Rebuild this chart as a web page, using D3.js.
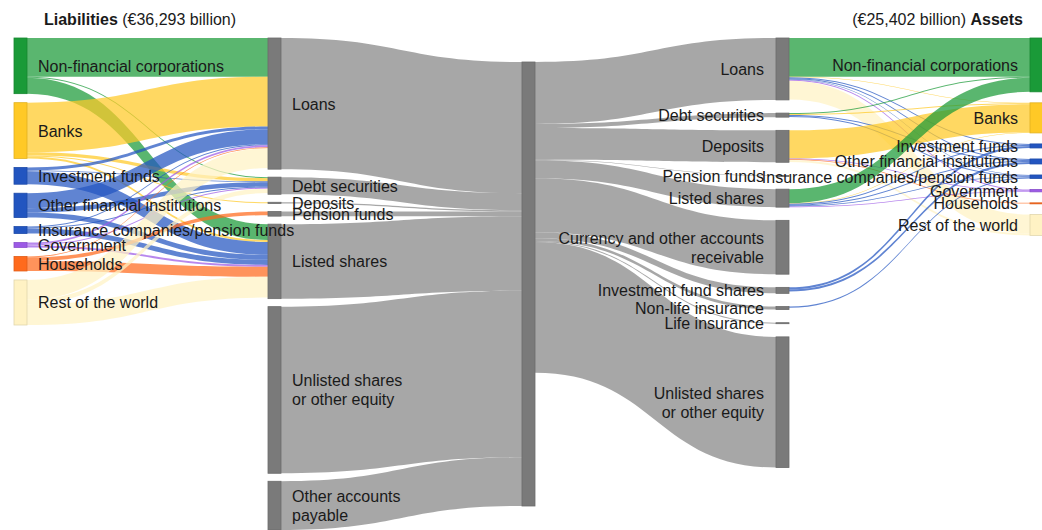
<!DOCTYPE html>
<html><head><meta charset="utf-8">
<script src="https://cdn.jsdelivr.net/npm/d3@7"></script>
<style>
body{margin:0;background:#fff}
text{font-family:"Liberation Sans",Arial,Helvetica,sans-serif}
</style>
</head><body>
<svg id="chart" width="1042" height="530"></svg>
<script>
// ---------- DATA (EUR billion) ----------
const sectors = ["Non-financial corporations","Banks","Investment funds","Other financial institutions","Insurance companies/pension funds","Government","Households","Rest of the world"];
const sectorColors = ["#1a9a38","#ffc926","#2255c0","#2255c0","#2255c0","#9c5ae6","#ff6a1c","#fff2c4"];
const liabilityInstruments = ["Loans","Debt securities","Deposits","Pension funds","Listed shares","Unlisted shares\nor other equity","Other accounts\npayable"];
const liabilityInstrumentTotals = [10720,1400,100,380,6090,13620,3983];
const assetInstruments = ["Loans","Debt securities","Deposits","Pension funds","Listed shares","Currency and other accounts\nreceivable","Investment fund shares","Non-life insurance","Life insurance","Unlisted shares\nor other equity"];
const assetInstrumentTotals = [5060,330,2610,40,1470,4400,490,240,80,10682];
// sector -> liability instrument (Loans, Debt securities, Deposits, Pension funds, Listed shares)
const liabilityFlows = [
  [3170, 80,  0,   0, 1300],
  [4060,260, 80,   0,  160],
  [ 240, 80,  0,   0, 1050],
  [1220,360,  0,   0,  410],
  [  80, 80,  0,   0,  410],
  [ 160, 80,  0,   0,  160],
  [  80,  0,  0, 300,  810],
  [1620,360,  0,   0, 1700]
];
// asset instrument -> sector (columns in order of `sectors`)
const assetFlows = [
  [3170,  40, 80, 80, 40, 80,  0,1540],
  [  80,  80,  0, 80, 80,  0,  0,   0],
  [   0,2300,  0,  0,  0, 60, 60, 160],
  [   0,   0,  0,  0,  0,  0,  0,   0],
  [1150,  40, 80, 80, 60, 60,  0,   0],
  [   0,   0,  0,  0,  0,  0,  0,   0],
  [   0,   0,170,170,  0,  0,  0,   0],
  [   0,   0,  0,  0,100,  0,  0,   0],
  [   0,   0,  0,  0,  0,  0,  0,   0],
  [   0,   0,  0,  0,  0,  0,  0,   0]
];
const liabilitiesTotal = 36293, assetsTotal = 25402;

// ---------- BUILD GRAPH ----------
const instrumentColor = "#7a7a7a";
const nodes = [], links = [];
function addNode(label, col, color){ const n = {label, col, color, sourceLinks:[], targetLinks:[]}; nodes.push(n); return n; }
function addLink(s, t, v){ if (v > 0) { const l = {source:s, target:t, value:v}; s.sourceLinks.push(l); t.targetLinks.push(l); links.push(l); } }

const liabSectorNodes = sectors.map((s,i) => addNode(s, 0, sectorColors[i]));
const liabInstrNodes = liabilityInstruments.map(s => addNode(s, 1, instrumentColor));
const centre = addNode("", 2, instrumentColor);
const assetInstrNodes = assetInstruments.map(s => addNode(s, 3, instrumentColor));
const assetSectorNodes = sectors.map((s,i) => addNode(s, 4, sectorColors[i]));

liabilityFlows.forEach((row,i) => row.forEach((v,j) => addLink(liabSectorNodes[i], liabInstrNodes[j], v)));
liabilityInstrumentTotals.forEach((v,j) => addLink(liabInstrNodes[j], centre, v));
assetInstrumentTotals.forEach((v,j) => addLink(centre, assetInstrNodes[j], v));
assetFlows.forEach((row,i) => row.forEach((v,j) => addLink(assetInstrNodes[i], assetSectorNodes[j], v)));

nodes.forEach(n => n.value = Math.max(d3.sum(n.sourceLinks, l=>l.value), d3.sum(n.targetLinks, l=>l.value)));

// ---------- LAYOUT ----------
const W = 1042, H = 530;
const topY = 38, extentH = 492, nodeW = 13;
const colPad = [9, 8, 0, 13.2, 11];
const xPos = d3.scalePoint().domain(d3.range(5)).range([14, 1030]);
const cols = d3.range(5).map(c => nodes.filter(n => n.col === c));
const ky = d3.min(cols, (ns,c) => (extentH - (ns.length-1)*colPad[c]) / d3.sum(ns, n=>n.value));
const hScale = d3.scaleLinear().domain([0, 1]).range([0, ky]);

cols.forEach((ns, c) => {
  ns.forEach(n => { n.x0 = xPos(c); n.x1 = n.x0 + nodeW; });
  if (ns.length === 1) {
    const n = ns[0];
    const srcs = n.targetLinks.map(l => l.source);
    const mid = (d3.min(srcs, s=>s.y0) + d3.max(srcs, s=>s.y1)) / 2;
    n.y0 = mid - hScale(n.value)/2; n.y1 = n.y0 + hScale(n.value);
  } else {
    let yy = topY;
    ns.forEach(n => { n.y0 = yy; n.y1 = yy + hScale(n.value); yy = n.y1 + colPad[c]; });
  }
});
nodes.forEach(n => {
  n.sourceLinks.sort((a,b) => a.target.y0 - b.target.y0);
  n.targetLinks.sort((a,b) => a.source.y0 - b.source.y0);
  let yy = n.y0;
  n.sourceLinks.forEach(l => { l.sy0 = yy; l.width = hScale(l.value); yy += l.width; l.sy1 = yy; });
  yy = n.y0;
  n.targetLinks.forEach(l => { l.ty0 = yy; yy += hScale(l.value); l.ty1 = yy; });
});

// ---------- DRAW ----------
const svg = d3.select("#chart");
svg.append("rect").attr("width", W).attr("height", H).attr("fill", "#fff");
const curve = d3.linkHorizontal();
function ribbon(l){
  const x0 = l.source.x1, x1 = l.target.x0;
  const a = curve({source:[x0, l.sy0], target:[x1, l.ty0]});
  const b = curve({source:[x1, l.ty1], target:[x0, l.sy1]});
  return a + b.replace(/^M/, "L") + "Z";
}
function linkColor(l){
  if (l.source.col === 0) return l.source.color;
  if (l.target.col === 4) return l.target.color;
  return instrumentColor;
}
svg.append("g").selectAll("path").data(links).join("path")
  .attr("d", ribbon)
  .attr("fill", linkColor)
  .attr("fill-opacity", l => (l.source.col === 0 || l.target.col === 4) ? 0.72 : 0.66);

svg.append("g").selectAll("rect").data(nodes).join("rect")
  .attr("x", n => n.x0).attr("y", n => n.y0)
  .attr("width", nodeW).attr("height", n => Math.max(1, n.y1 - n.y0))
  .attr("fill", n => n.color)
  .attr("stroke", n => d3.color(n.color).darker(0.35))
  .attr("stroke-width", 0.8);

const lineH = 19;
const lab = svg.append("g").attr("font-size", 16).attr("fill", "#1a1a1a");
nodes.filter(n => n.label).forEach(n => {
  const lines = n.label.split("\n");
  const left = n.col < 2;
  const cy = (n.y0 + n.y1) / 2 - (lines.length - 1) * lineH / 2;
  const lx = left ? n.x1 + 11 : n.x0 - 12;
  const t = lab.append("text")
    .attr("x", lx)
    .attr("y", cy)
    .attr("dominant-baseline", "central")
    .attr("text-anchor", left ? "start" : "end");
  lines.forEach((s,i) => t.append("tspan").attr("x", lx).attr("dy", i ? lineH : 0).text(s));
});

const fmt = d3.format(",");
const tl = svg.append("text").attr("x", 44).attr("y", 25).attr("font-size", 16).attr("fill", "#1a1a1a");
tl.append("tspan").attr("font-weight", "bold").text("Liabilities");
tl.append("tspan").text(" (€" + fmt(liabilitiesTotal) + " billion)");
const tr = svg.append("text").attr("x", 1023).attr("y", 25).attr("font-size", 16).attr("fill", "#1a1a1a").attr("text-anchor", "end");
tr.append("tspan").text("(€" + fmt(assetsTotal) + " billion) ");
tr.append("tspan").attr("font-weight", "bold").text("Assets");
</script>
</body></html>
